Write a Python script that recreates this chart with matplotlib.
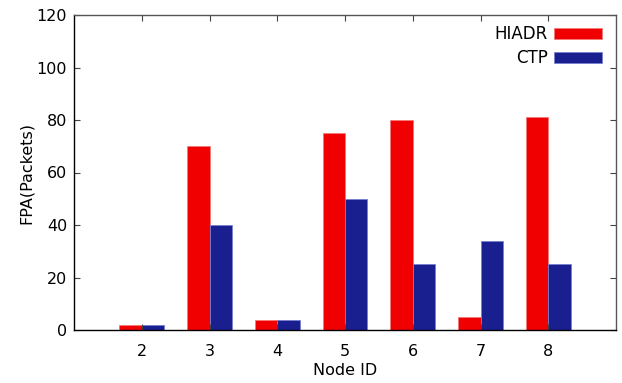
import matplotlib
matplotlib.use('Agg')
import matplotlib.pyplot as plt
import numpy as np

# FPA per node for the two protocols
node_ids = [2, 3, 4, 5, 6, 7, 8]
hiadr = [2, 70, 4, 75, 80, 5, 81]
ctp = [2, 40, 4, 50, 25, 34, 25]

RED = '#f00000'
BLUE = '#1a1f8f'

fig = plt.figure(figsize=(6.22, 3.83), dpi=100)
ax = fig.add_axes([74 / 622, 53 / 383, 542 / 622, 315 / 383])

x = np.array(node_ids)
w = 0.33
ax.bar(x - w / 2, hiadr, width=w, color=RED, edgecolor='#f47a7a', linewidth=0.6, label='HIADR')
ax.bar(x + w / 2, ctp, width=w, color=BLUE, edgecolor='#7a7fd0', linewidth=0.6, label='CTP')

ax.set_xlim(1, 9)
ax.set_ylim(0, 120)
ax.set_xticks(node_ids)
ax.set_yticks(range(0, 121, 20))
ax.tick_params(direction='in', length=4, labelsize=11.5, top=True, right=True,
               color='#444444')
ax.tick_params(axis='x', pad=10)
ax.tick_params(axis='y', pad=5)

ax.spines['bottom'].set_color('black')
ax.spines['left'].set_color('black')
ax.spines['top'].set_color('#555555')
ax.spines['right'].set_color('#555555')
for s in ax.spines.values():
    s.set_linewidth(1.0)

ax.set_xlabel('Node ID', fontsize=11.5, labelpad=3)
ax.set_ylabel('FPA(Packets)', fontsize=11.5, labelpad=2)

leg = ax.legend(loc='upper right', frameon=False, fontsize=12, markerfirst=False,
                handlelength=2.9, handleheight=0.66, handletextpad=0.35,
                labelspacing=0.38, borderaxespad=0, borderpad=0,
                bbox_to_anchor=(0.974, 0.968))
for t in leg.get_texts():
    t.set_ha('right')

fig.savefig('out.png', dpi=100, facecolor='white')
